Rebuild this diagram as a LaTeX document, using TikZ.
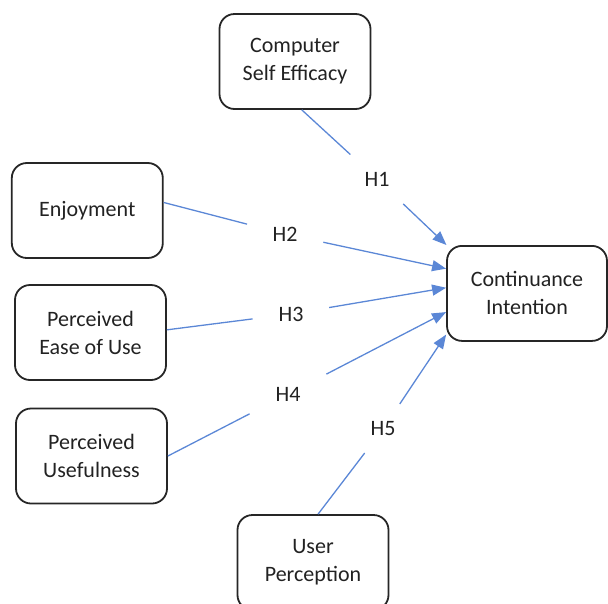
\documentclass[tikz,border=0pt]{standalone}
\usepackage{fontspec}
\setmainfont{Carlito}
\usetikzlibrary{arrows.meta,calc}
\definecolor{linkblue}{HTML}{5B87D6}
\definecolor{txt}{HTML}{222222}
\begin{document}
\begin{tikzpicture}[x=1pt,y=-1pt,
  box/.style={draw=black!85, line width=1.8pt, rounded corners=15pt,
    minimum width=151pt, minimum height=95pt, align=center,
    font=\fontsize{22}{28}\selectfont, text=txt, inner sep=0pt},
  hyp/.style={circle, inner sep=0pt, font=\fontsize{22}{28}\selectfont, text=txt},
  link/.style={draw=linkblue, line width=1.3pt},
  arr/.style={link, -{Triangle[length=14pt,width=11pt]}}]
\useasboundingbox (0,0) rectangle (608,603);
\clip (0,0) rectangle (608,603);
\node[box] (cse) at (295,61.5) {Computer\\Self Efficacy};
\node[box] (enj) at (87.3,210.5) {Enjoyment};
\node[box] (peu) at (90.5,332.5) {Perceived\\Ease of Use};
\node[box] (pu) at (91.5,456) {Perceived\\Usefulness};
\node[box] (up) at (313,562.5) {User\\Perception};
\node[box, minimum width=160pt] (ci) at (527,293.4) {Continuance\\Intention};
\node[hyp, minimum size=72pt] (h1) at (377,179) {H1};
\node[hyp, minimum size=78pt] (h2) at (285,234) {H2};
\node[hyp, minimum size=77pt] (h3) at (291,314) {H3};
\node[hyp, minimum size=86pt] (h4) at (288,394) {H4};
\node[hyp, minimum size=60pt] (h5) at (383,429) {H5};
\draw[link] (cse.278) -- (h1);
\draw[arr] (h1) -- (ci.149.5);
\draw[link] (enj.6.4) -- (h2);
\draw[arr] (h2) -- (ci.163.9);
\draw[link] (peu.2) -- (h3);
\draw[arr] (h3) -- (ci.176.9);
\draw[link] (pu.east) -- (h4);
\draw[arr] (h4) -- (ci.193.1);
\draw[link] (up.84) -- (h5);
\draw[arr] (h5) -- (ci.207.8);
\end{tikzpicture}
\end{document}
